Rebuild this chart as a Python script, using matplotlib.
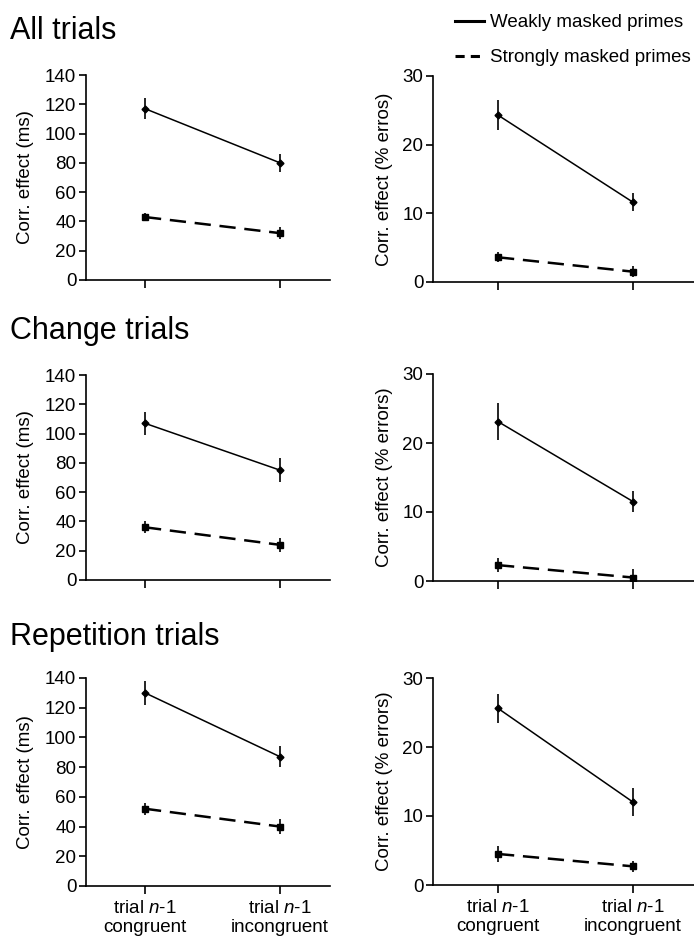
import numpy as np
import matplotlib
matplotlib.use("Agg")
import matplotlib.pyplot as plt
from matplotlib.lines import Line2D

plt.rcParams['font.family'] = ['Liberation Sans', 'DejaVu Sans']
plt.rcParams['mathtext.fontset'] = 'custom'
plt.rcParams['mathtext.rm'] = 'Liberation Sans'
plt.rcParams['mathtext.it'] = 'Liberation Sans:italic'

# data: rows = all / change / repetition, values at [n-1 congruent, n-1 incongruent]
titles = ["All trials", "Change trials", "Repetition trials"]
xlabels = ["trial $\\it{n}$-1\ncongruent", "trial $\\it{n}$-1\nincongruent"]

rt_weak = [[117, 80], [107, 75], [130, 87]]
rt_weak_err = [[7, 6], [8, 8], [8, 7]]
rt_strong = [[43, 32], [36, 24], [52, 40]]
rt_strong_err = [[3, 4], [4, 5], [4, 5]]

er_weak = [[24.3, 11.6], [23.1, 11.5], [25.6, 12.0]]
er_weak_err = [[2.2, 1.3], [2.7, 1.5], [2.1, 2.0]]
er_strong = [[3.6, 1.5], [2.3, 0.5], [4.5, 2.7]]
er_strong_err = [[0.7, 0.8], [1.0, 1.3], [1.2, 0.8]]

rt_label = "Corr. effect (ms)"
er_labels = ["Corr. effect (% erros)", "Corr. effect (% errors)", "Corr. effect (% errors)"]

W, H = 694, 943
fs = 13.5
fig = plt.figure(figsize=(W / 100, H / 100), dpi=100)

# pixel boxes: (left, top, right, bottom)
left_boxes = [(86, 75, 330, 280), (86, 375, 330, 580), (86, 678, 330, 886)]
right_boxes = [(433, 76, 694, 282), (433, 374, 694, 581), (433, 678, 694, 885)]
title_y = [39, 339, 645]

x = np.array([1, 2])


def add_ax(box):
    l, t, r, b = box
    return fig.add_axes([l / W, 1 - b / H, (r - l) / W, (b - t) / H])


def draw(ax, weak, weak_e, strong, strong_e, ymax, yticks, ylabel, xlim, show_x, labx):
    ax.errorbar(x, weak, yerr=weak_e, fmt='-', color='black', lw=1.1,
                marker='D', ms=3.5, elinewidth=1.2, capsize=0)
    ax.errorbar(x, strong, yerr=strong_e, fmt='-', color='black', lw=1.8,
                dashes=(6.5, 3.5), marker='s', ms=4.5, elinewidth=1.2, capsize=0)
    ax.set_ylim(0, ymax)
    ax.set_xlim(*xlim)
    ax.set_yticks(yticks)
    ax.set_xticks(x)
    if show_x:
        ax.set_xticklabels(xlabels, fontsize=fs, linespacing=1.2)
    else:
        ax.set_xticklabels([])
    for s in ['top', 'right']:
        ax.spines[s].set_visible(False)
    for s in ['left', 'bottom']:
        ax.spines[s].set_linewidth(1.2)
    ax.tick_params(axis='y', direction='out', length=5, width=1.2, labelsize=fs, pad=2)
    ax.tick_params(axis='x', direction='out', length=6, width=1.2, labelsize=fs, pad=4)
    ax.set_ylabel(ylabel, fontsize=fs)
    ax.yaxis.set_label_coords(labx, 0.5)
    ax.patch.set_alpha(0)


for i in range(3):
    axl = add_ax(left_boxes[i])
    draw(axl, rt_weak[i], rt_weak_err[i], rt_strong[i], rt_strong_err[i],
         140, np.arange(0, 141, 20), rt_label, (0.563, 2.37), i == 2, -0.215)
    axr = add_ax(right_boxes[i])
    draw(axr, er_weak[i], er_weak_err[i], er_strong[i], er_strong_err[i],
         30, [0, 10, 20, 30], er_labels[i], (0.519, 2.45), i == 2, -0.155)
    fig.text(10 / W, 1 - title_y[i] / H, titles[i], fontsize=22, va='baseline', ha='left')

handles = [Line2D([], [], color='black', lw=2.2),
           Line2D([], [], color='black', lw=2.2, dashes=(3, 2))]
fig.legend(handles, ["Weakly masked primes", "Strongly masked primes"],
           loc='upper left', bbox_to_anchor=(455 / W, 1 - 14 / H), frameon=False,
           fontsize=fs, handlelength=1.55, handletextpad=0.3, labelspacing=0.95,
           borderpad=0, borderaxespad=0)

fig.savefig("out.png", dpi=100)
